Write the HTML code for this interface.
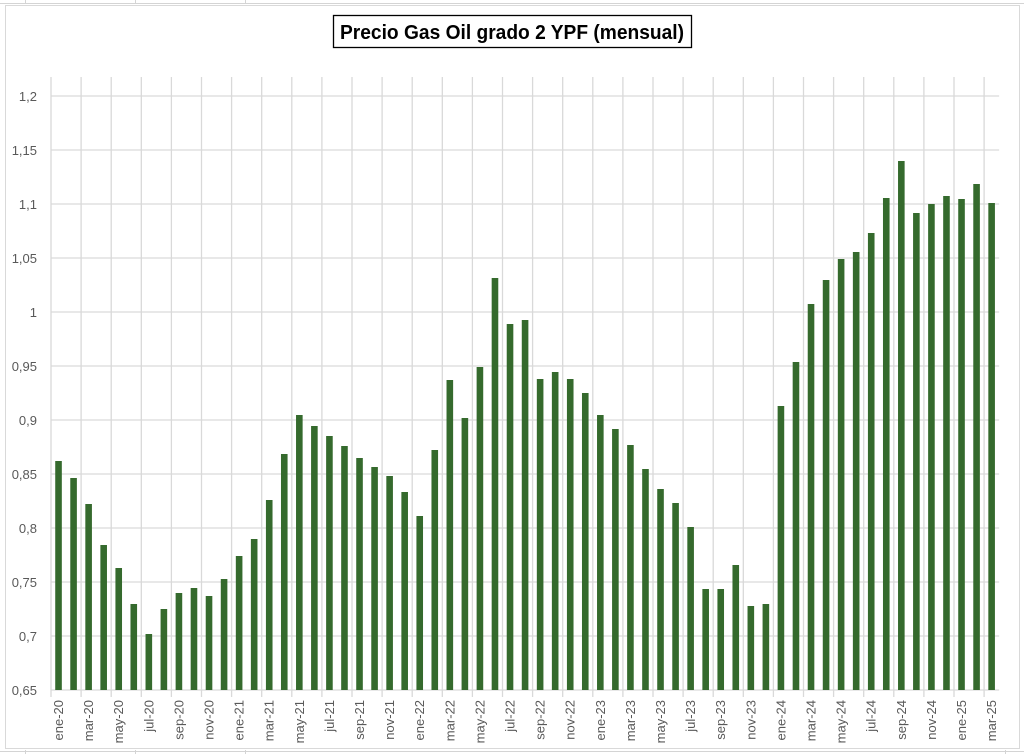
<!DOCTYPE html>
<html><head><meta charset="utf-8"><style>
html,body{margin:0;padding:0;background:#fff;}
svg{display:block;font-family:"Liberation Sans",sans-serif;}
</style></head><body>
<svg id="s" width="1024" height="754" xmlns="http://www.w3.org/2000/svg">
<rect x="0" y="0" width="1024" height="754" fill="#fff"/>
<g stroke="#d4d4d4" stroke-width="1">
<line x1="0" y1="3.5" x2="1024" y2="3.5"/>
<line x1="25.5" y1="0" x2="25.5" y2="4"/><line x1="135.5" y1="0" x2="135.5" y2="4"/><line x1="245.5" y1="0" x2="245.5" y2="4"/>
<line x1="25.5" y1="750" x2="25.5" y2="754"/><line x1="135.5" y1="750" x2="135.5" y2="754"/><line x1="245.5" y1="750" x2="245.5" y2="754"/><line x1="1005.5" y1="750" x2="1005.5" y2="754"/>
<line x1="0" y1="751.5" x2="1024" y2="751.5"/>
</g>
<rect x="5.5" y="5.5" width="1014" height="743" fill="#fff" stroke="#d9d9d9"/>
<g id="grid" stroke="#d9d9d9" stroke-width="1.3"></g>
<g id="bars" fill="#356a2d"></g>
<g id="labels" fill="#595959" font-size="13"></g>
<rect x="333.5" y="15.5" width="358" height="32" fill="#fff" stroke="#000" stroke-width="1.3"/>
<text x="512" y="39" text-anchor="middle" font-size="20" font-weight="bold" textLength="344" lengthAdjust="spacingAndGlyphs" fill="#000">Precio Gas Oil grado 2 YPF (mensual)</text>
</svg>
<script>
var ns="http://www.w3.org/2000/svg";
function el(p,t,a,txt){var e=document.createElementNS(ns,t);for(var k in a)e.setAttribute(k,a[k]);if(txt)e.textContent=txt;p.appendChild(e);return e;}
var g=document.getElementById('grid'),b=document.getElementById('bars'),l=document.getElementById('labels');
var L=51,W=15.05,N=63,B=690;
var ylab=["0,65","0,7","0,75","0,8","0,85","0,9","0,95","1","1,05","1,1","1,15","1,2"];
for(var i=0;i<12;i++){var y=690-i*54;el(g,'line',{x1:L,y1:y,x2:L+N*W,y2:y});
el(l,'text',{x:37,y:y+5,'text-anchor':'end'},ylab[i]);}
for(var i=0;i<=N;i+=2){var x=L+i*W;el(g,'line',{x1:x,y1:77,x2:x,y2:697});}
var tops=[461,478,504,545,568,604,634,609,593,588,596,579,556,539,500,454,415,426,436,446,458,467,476,492,516,450,380,418,367,278,324,320,379,372,379,393,415,429,445,469,489,503,527,589,589,565,606,604,406,362,304,280,259,252,233,198,161,213,204,196,199,184,203];
for(var i=0;i<N;i++){var c=L+(i+0.5)*W;el(b,'rect',{x:c-3.3,y:tops[i],width:6.6,height:B-tops[i]});}
var m=["ene","mar","may","jul","sep","nov"];
for(var i=0;i<N;i+=2){var c=L+(i+0.5)*W;var yr=20+Math.floor(i/12);var t=m[(i%12)/2]+"-"+yr;
el(l,'text',{x:0,y:0,'text-anchor':'end',transform:'translate('+(c+4.5)+',700) rotate(-90)'},t);}
</script>
</body></html>
